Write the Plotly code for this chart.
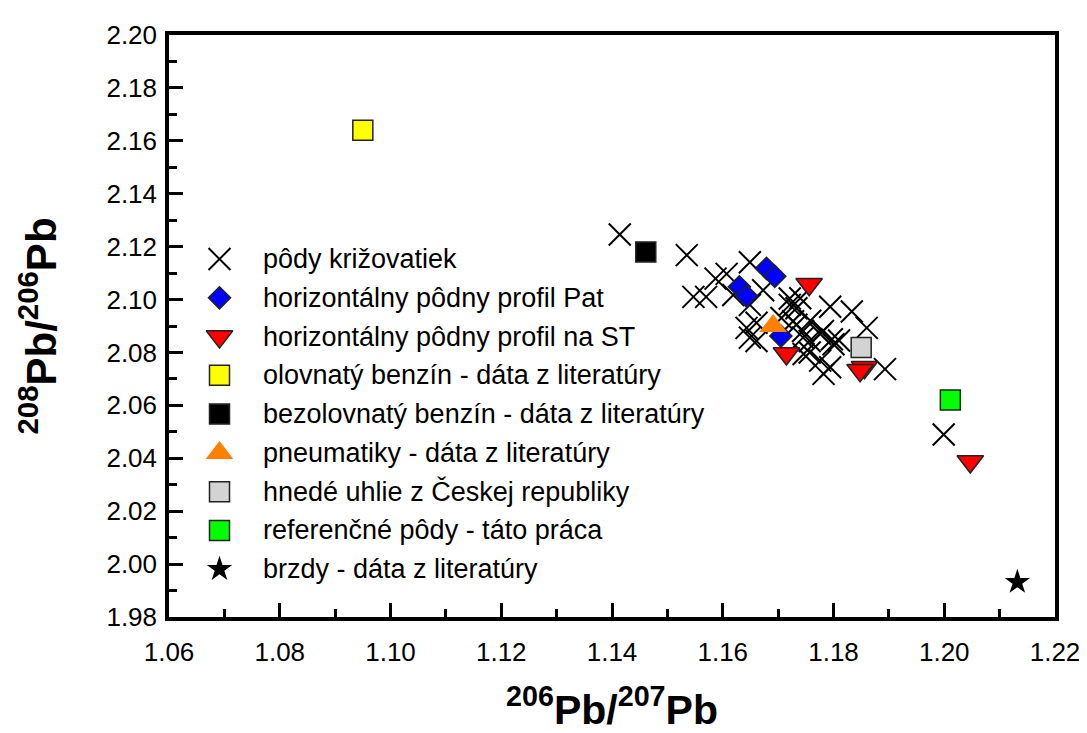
import plotly.graph_objects as go

# ---- data ----
cross_x = [1.1414, 1.1535, 1.1547, 1.1570, 1.1587, 1.1607, 1.1619, 1.1649, 1.1649, 1.1673,
           1.1721, 1.1733, 1.1794, 1.1833, 1.1860, 1.1893, 1.1643, 1.1649, 1.1661, 1.1706,
           1.1727, 1.1745, 1.1757, 1.1781, 1.1746, 1.1776, 1.1794, 1.1782, 1.1800, 1.1999,
           1.1661, 1.1721, 1.1733, 1.1745, 1.1757, 1.1797, 1.1810, 1.1740, 1.1758, 1.1776]
cross_y = [2.1246, 2.1168, 2.1010, 2.1010, 2.1079, 2.1097, 2.1017, 2.1141, 2.0980, 2.1035,
           2.1004, 2.0967, 2.0973, 2.0955, 2.0893, 2.0737, 2.0893, 2.0856, 2.0843, 2.0930,
           2.0918, 2.0881, 2.0843, 2.0881, 2.0794, 2.0769, 2.0744, 2.0719, 2.0831, 2.0490,
           2.0912, 2.0980, 2.0905, 2.0856, 2.0800, 2.0850, 2.0845, 2.1005, 2.0920, 2.0870]

pat_x = [1.1679, 1.1694, 1.1630, 1.1643, 1.1705]
pat_y = [2.1118, 2.1088, 2.1048, 2.1013, 2.0862]

st_x = [1.1756, 1.1715, 1.1856, 1.1848, 1.2047]
st_y = [2.1058, 2.0796, 2.0744, 2.0733, 2.0388]

leaded_x = [1.095]
leaded_y = [2.164]

unleaded_x = [1.1461]
unleaded_y = [2.1180]

tyres_x = [1.1691]
tyres_y = [2.0900]

coal_x = [1.1850]
coal_y = [2.0819]

ref_x = [1.2011]
ref_y = [2.0620]

brakes_x = [1.2132]
brakes_y = [1.9932]

names = [
    "pôdy križovatiek",
    "horizontálny pôdny profil Pat",
    "horizontálny pôdny profil na ST",
    "olovnatý benzín - dáta z literatúry",
    "bezolovnatý benzín - dáta z literatúry",
    "pneumatiky - dáta z literatúry",
    "hnedé uhlie z Českej republiky",
    "referenčné pôdy - táto práca",
    "brzdy - dáta z literatúry",
]

x_ticks = [1.06, 1.08, 1.10, 1.12, 1.14, 1.16, 1.18, 1.20, 1.22]
y_ticks = [1.98, 2.00, 2.02, 2.04, 2.06, 2.08, 2.10, 2.12, 2.14, 2.16, 2.18, 2.20]

FONT = "Liberation Sans, Arial, sans-serif"
edge = "#222222"

markers = [
    dict(symbol="x-thin-open", size=22, color="black", line=dict(color="black", width=2)),
    dict(symbol="diamond", size=17, color="#0000FF", line=dict(color=edge, width=1.5)),
    dict(symbol="triangle-down", size=23, color="#FF0000", line=dict(color=edge, width=1.5)),
    dict(symbol="square", size=20, color="#FFFF00", line=dict(color=edge, width=1.5)),
    dict(symbol="square", size=20, color="#000000", line=dict(color=edge, width=1.5)),
    dict(symbol="triangle-up", size=24, color="#FF8000", line=dict(color="#FF8000", width=0)),
    dict(symbol="square", size=20, color="#D3D3D3", line=dict(color=edge, width=1.5)),
    dict(symbol="square", size=20, color="#00FF00", line=dict(color=edge, width=1.5)),
    dict(symbol="star", size=19, color="#000000", line=dict(color="black", width=0)),
]

series = [(cross_x, cross_y), (pat_x, pat_y), (st_x, st_y), (leaded_x, leaded_y),
          (unleaded_x, unleaded_y), (tyres_x, tyres_y), (coal_x, coal_y),
          (ref_x, ref_y), (brakes_x, brakes_y)]

fig = go.Figure()
for (xs, ys), nm, mk in zip(series, names, markers):
    fig.add_trace(go.Scatter(x=xs, y=ys, mode="markers", name=nm, marker=mk,
                             showlegend=False))

# ---- legend drawn inside the plot area (overlay axes in plot-area fractions) ----
leg_sym_x = 0.057
leg_txt_x = 0.104
leg_top = 0.615
leg_step = 0.0666
for i, (nm, mk) in enumerate(zip(names, markers)):
    yy = leg_top - i * leg_step
    fig.add_trace(go.Scatter(x=[leg_sym_x], y=[yy], mode="markers", marker=mk,
                             xaxis="x2", yaxis="y2", showlegend=False, hoverinfo="skip",
                             name=nm))
    fig.add_annotation(x=leg_txt_x, y=yy, xref="paper", yref="paper", text=nm,
                       showarrow=False, xanchor="left", yanchor="middle",
                       font=dict(family=FONT, size=27, color="black"))

minor_style = dict(dtick=0.01, ticks="inside", ticklen=8, tickwidth=3, tickcolor="black")

xaxis = dict(
    range=[1.06, 1.22], tickvals=x_ticks, ticklabelstandoff=9, minor=minor_style,
    showgrid=False, zeroline=False, showline=True, linecolor="black", linewidth=3.5,
    mirror=True, ticks="inside", ticklen=14, tickwidth=3, tickcolor="black",
    tickfont=dict(family=FONT, size=26, color="black"), tickformat=".2f",
    title=dict(text="<b><sup>206</sup>Pb/<sup>207</sup>Pb</b>",
               font=dict(family=FONT, size=41, color="black"), standoff=30),
)
yaxis = dict(
    range=[1.98, 2.20], tickvals=y_ticks, ticklabelstandoff=3, minor=minor_style,
    showgrid=False, zeroline=False, showline=True, linecolor="black", linewidth=3.5,
    mirror=True, ticks="inside", ticklen=14, tickwidth=3, tickcolor="black",
    tickfont=dict(family=FONT, size=26, color="black"), tickformat=".2f",
    title=dict(text="<b><sup>208</sup>Pb/<sup>206</sup>Pb</b>",
               font=dict(family=FONT, size=42, color="black"), standoff=38),
)

# page body has an 8px margin, so the margins are shifted to compensate
fig.update_layout(
    xaxis=xaxis, yaxis=yaxis,
    xaxis2=dict(overlaying="x", anchor="y2", range=[0, 1], visible=False, fixedrange=True),
    yaxis2=dict(overlaying="y", anchor="x2", range=[0, 1], visible=False, fixedrange=True),
    width=1087, height=733,
    margin=dict(l=161, r=40, t=17, b=124),
    paper_bgcolor="white", plot_bgcolor="white",
    font=dict(family=FONT, color="black"),
    showlegend=False,
)

fig.write_html("out.html")
